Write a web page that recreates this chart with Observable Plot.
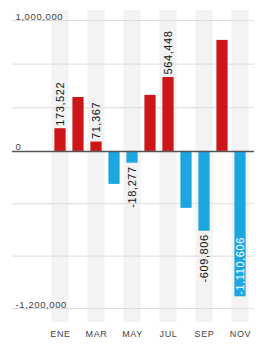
<!DOCTYPE html>
<html><head><meta charset="utf-8">
<script src="https://cdn.jsdelivr.net/npm/d3@7"></script>
<script src="https://cdn.jsdelivr.net/npm/@observablehq/plot@0.6"></script>
<style>body{margin:0;background:#fff} svg{display:block}</style>
</head><body><div id="chart"></div>
<script>
const months = ["ENE","FEB","MAR","ABR","MAY","JUN","JUL","AGO","SEP","OCT","NOV"];
const values = [173522, 412000, 71367, -252000, -90000, 428000, 564448, -435000, -609806, 848000, -1110606];
const valueLabels = ["173,522", null, "71,367", null, "-18,277", null, "564,448", null, "-609,806", null, "-1,110,606"];
const axisMonths = ["ENE","MAR","MAY","JUL","SEP","NOV"];
const stripeMonths = ["ENE","MAR","MAY","JUL","SEP","NOV"];
const yTickValues = [1000000, 0, -1200000];
const yTickLabels = ["1,000,000", "0", "-1,200,000"];
const gridValues = [1000000, 666667, 333333, -400000, -800000, -1200000];

const data = months.map((m, i) => ({month: m, value: values[i], label: valueLabels[i]}));
const yMin = -1200000, yMax = 1000000;
const RED = "#cc1619", BLUE = "#1ba6e0";

const chart = Plot.plot({
  width: 262, height: 351,
  marginTop: 20, marginBottom: 43, marginLeft: 12, marginRight: 8,
  x: {domain: months, range: [48.8, 251.2], padding: 0, axis: null},
  y: {domain: [yMin, yMax], axis: null},
  style: {fontFamily: "'Liberation Sans', Arial, sans-serif", background: "#fff"},
  marks: [
    Plot.barY(stripeMonths, {x: d => d, y1: yMin, y2: yMax, fill: "#f3f3f3", insetTop: -10, insetBottom: -14, insetLeft: 0.5, insetRight: 0.5}),
    Plot.ruleY(gridValues, {stroke: "#dcdcdc", strokeWidth: 1}),
    Plot.barY(data, {x: "month", y: "value", fill: d => d.value >= 0 ? RED : BLUE, insetLeft: 3.4, insetRight: 3.4}),
    Plot.ruleY([0], {stroke: "#555", strokeWidth: 1.5}),
    Plot.text(data.filter(d => d.label && d.value > 0), {x: "month", y: "value", text: "label", rotate: -90, textAnchor: "start", dy: -3, fontSize: 11, fill: "#111"}),
    Plot.text(data.filter(d => d.label && d.value < 0 && d.value > -1000000), {x: "month", y: "value", text: "label", rotate: -90, textAnchor: "end", dy: 3, fontSize: 11, fill: "#111"}),
    Plot.text(data.filter(d => d.label && d.value <= -1000000), {x: "month", y: "value", text: "label", rotate: -90, textAnchor: "start", dy: -2, fontSize: 11, fill: "#fff"}),
    Plot.text(yTickValues, {y: d => d, text: (d, i) => yTickLabels[i], frameAnchor: "left", textAnchor: "start", lineAnchor: "bottom", dx: 3, dy: -1, fontSize: 9.5, fill: "#444"}),
    Plot.text(axisMonths, {x: d => d, frameAnchor: "bottom", dy: 28, fontSize: 9, fill: "#444"})
  ]
});
document.getElementById("chart").append(chart);
d3.select(chart).selectAll("text").style("letter-spacing", "0.6px");
</script>
</body></html>
